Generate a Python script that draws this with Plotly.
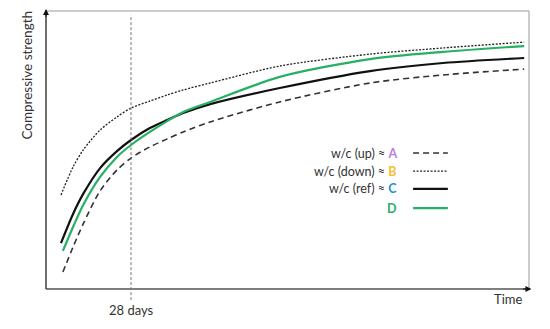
import plotly.graph_objects as go

# time in arbitrary units (0..100), strength in arbitrary units (0..100)
time_tail = [5.6, 7.7, 11.2, 14.7, 17.6, 21.5, 25.1, 28.4, 34.0, 48.4, 67.1, 82.2, 99.0]
start_A, start_B, start_C, start_D = 3.5, 3.1, 3.1, 3.5
strength_A = [6.1, 15.1, 23.4, 35.3, 42.8, 47.1, 51.1, 54.0, 56.5, 60.1, 67.3, 74.1, 77.0, 79.1]
strength_B = [33.8, 43.9, 50.0, 57.2, 61.9, 65.1, 67.6, 69.8, 71.6, 74.1, 80.2, 84.5, 86.7, 88.8]
strength_C = [16.5, 27.0, 34.2, 43.5, 49.6, 53.6, 57.9, 60.8, 63.3, 66.5, 72.3, 78.4, 81.3, 83.1]
strength_D = [13.7, 22.3, 30.2, 40.3, 47.5, 51.8, 56.5, 60.4, 63.7, 67.3, 76.3, 82.7, 85.3, 87.4]
t28 = 17.6

legend_prefix = ["w/c (up) ≈ ", "w/c (down) ≈ ", "w/c (ref) ≈ ", ""]
legend_letters = ["A", "B", "C", "D"]
letter_colors = ["#b77de0", "#f4c033", "#1e8fd6", "#27b063"]

GREEN = "#27b063"
styles = [
    dict(color="#333333", width=1.6, dash="6px,4px"),
    dict(color="#222222", width=1.3, dash="2px,1.5px"),
    dict(color="#111111", width=2.2, dash="solid"),
    dict(color=GREEN, width=2.2, dash="solid"),
]
series = [strength_A, strength_B, strength_C, strength_D]
starts = [start_A, start_B, start_C, start_D]

fig = go.Figure()
for s, st, t0 in zip(series, styles, starts):
    fig.add_trace(go.Scatter(x=[t0] + time_tail, y=s, mode="lines",
                             line=dict(shape="spline", smoothing=0.8, **st),
                             showlegend=False, hoverinfo="skip"))

# frame (top/right gray)
fig.add_shape(type="rect", xref="paper", yref="paper", x0=0, x1=1, y0=0, y1=1,
              line=dict(color="#9a9a9a", width=1))
# axes
fig.add_shape(type="line", xref="paper", yref="paper", x0=0, x1=1, y0=0, y1=0,
              line=dict(color="#333333", width=1.2))
fig.add_shape(type="line", xref="paper", yref="paper", x0=0, x1=0, y0=0, y1=1,
              line=dict(color="#333333", width=1.2))
# arrowheads
fig.add_annotation(x=1.005, y=0, xref="paper", yref="paper", ax=-10, ay=0,
                   showarrow=True, arrowhead=2, arrowsize=1, arrowwidth=1.2,
                   arrowcolor="#111", text="")
fig.add_annotation(x=0, y=1.01, xref="paper", yref="paper", ax=0, ay=10,
                   showarrow=True, arrowhead=2, arrowsize=1, arrowwidth=1.2,
                   arrowcolor="#111", text="")

# 28-day line
fig.add_shape(type="line", xref="x", yref="paper", x0=t28, x1=t28, y0=-0.04, y1=0.986,
              line=dict(color="#777777", width=1, dash="3px,2px"))
fig.add_annotation(x=t28, y=-0.04, xref="x", yref="paper", text="28 days",
                   showarrow=False, yanchor="top", xanchor="center",
                   font=dict(size=13, color="#333333"))

fig.add_annotation(x=0.956, y=-0.035, xref="paper", yref="paper", text="Time",
                   showarrow=False, yanchor="middle", xanchor="center",
                   font=dict(size=13, color="#333333"))
fig.add_annotation(x=-0.04, y=0.77, xref="paper", yref="paper", text="Compressive strength",
                   textangle=-90, showarrow=False, xanchor="center", yanchor="middle",
                   font=dict(size=13.5, color="#333333"))

# custom legend
rows_y = [0.489, 0.424, 0.360, 0.291]
for pre, let, col, st, ry in zip(legend_prefix, legend_letters, letter_colors, styles, rows_y):
    txt = f"{pre}<b><span style='color:{col}'>{let}</span></b>"
    fig.add_annotation(x=0.731, y=ry, xref="paper", yref="paper", text=txt,
                       showarrow=False, xanchor="right", yanchor="middle",
                       font=dict(size=12.5, color="#333333"))
    fig.add_shape(type="line", xref="paper", yref="paper", x0=0.760, x1=0.832, y0=ry, y1=ry,
                  line=st)

fig.update_xaxes(range=[0, 100], visible=False)
fig.update_yaxes(range=[0, 100], visible=False)
# page body has an 8px default margin; compensate so the plot area lands where the reference has it
fig.update_layout(width=542, height=321, autosize=False,
                  margin=dict(l=38, r=21, t=3, b=40),
                  plot_bgcolor="white", paper_bgcolor="white",
                  font=dict(family="Lato, sans-serif"))
fig.write_html("out.html")
